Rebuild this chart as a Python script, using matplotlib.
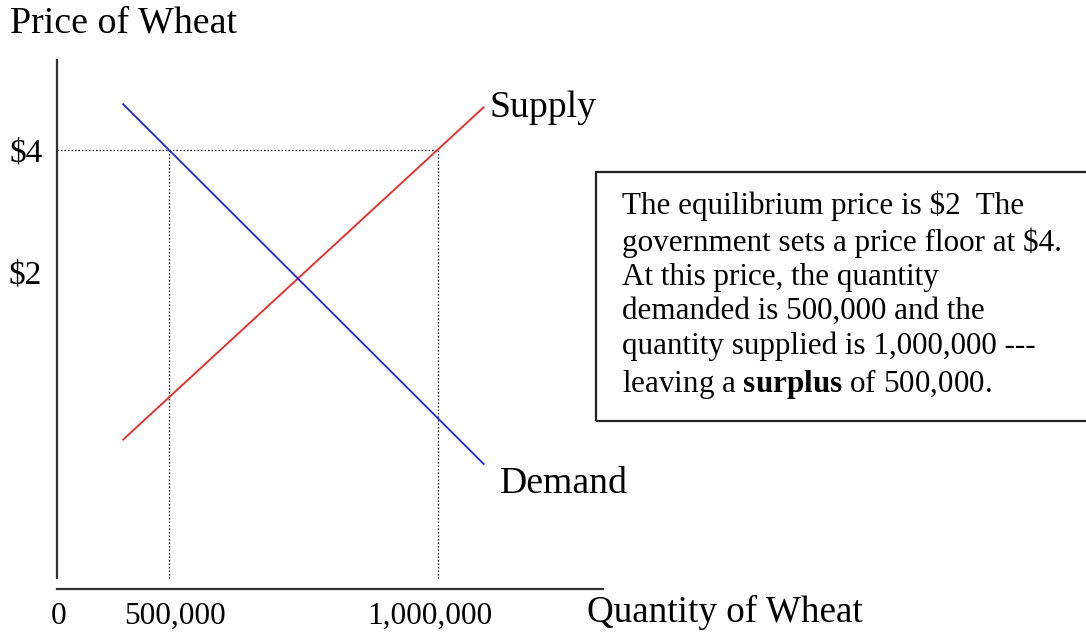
import matplotlib
matplotlib.use("Agg")
import matplotlib.pyplot as plt
from matplotlib.patches import Rectangle
from matplotlib.transforms import ScaledTranslation

plt.rcParams['font.family'] = ['Liberation Serif', 'DejaVu Serif']
plt.rcParams['mathtext.fontset'] = 'custom'
plt.rcParams['mathtext.rm'] = 'Liberation Serif'
plt.rcParams['mathtext.bf'] = 'Liberation Serif:bold'

# schematic data (quantity in bushels, price in $)
supply_q = [415000, 1085000]
supply_p = [-0.75, 4.70]
demand_q = [415000, 1085000]
demand_p = [4.75, -1.15]

floor_price = 4
qty_demanded = 500000
qty_supplied = 1000000

x_ticks = [292000, 500000, 1000000]
x_labels = ["0", "500,000", "1,000,000"]
y_ticks = [2, 4]
y_labels = ["$2", "$4"]

note = ("The equilibrium price is \\$2  The\n"
        "government sets a price floor at \\$4.\n"
        "At this price, the quantity\n"
        "demanded is 500,000 and the\n"
        "quantity supplied is 1,000,000 ---\n"
        "leaving a $\\mathbf{surplus}$ of 500,000.")

W, H = 1086, 635
fig = plt.figure(figsize=(W / 100, H / 100), dpi=100)

# axes box in pixels: left 57, right 603, top 60, bottom 589
ax = fig.add_axes([57 / W, 1 - 589 / H, (603 - 57) / W, (589 - 60) / H])
ax.set_xlim(292000, 1306700)
ax.set_ylim(-3.2, 5.475)

for s in ['top', 'right']:
    ax.spines[s].set_visible(False)
ax.spines['left'].set_bounds(-3.02, 5.475)
for s in ['left', 'bottom']:
    ax.spines[s].set_linewidth(1.6)
    ax.spines[s].set_color('#333333')

ax.set_xticks(x_ticks)
ax.set_xticklabels(x_labels, fontsize=22.5)
ax.set_yticks(y_ticks)
ax.set_yticklabels(y_labels, fontsize=24)
ax.tick_params(axis='x', length=0, pad=9)
ax.tick_params(axis='y', length=0, pad=10.5)

# the labels in the original sit a little off the guide lines
for lab, dx in zip(ax.get_xticklabels(), [2, 6, -8]):
    lab.set_transform(lab.get_transform() + ScaledTranslation(dx / 100, 0, fig.dpi_scale_trans))

# dotted guide lines
dots = dict(color='black', lw=0.9, linestyle=(0, (1.2, 1.6)))
ax.plot([x_ticks[0], qty_supplied], [floor_price, floor_price], **dots)
ax.plot([qty_demanded, qty_demanded], [floor_price, -3.02], **dots)
ax.plot([qty_supplied, qty_supplied], [floor_price, -3.02], **dots)

ax.plot(supply_q, supply_p, color='#ff2020', lw=1.3)
ax.plot(demand_q, demand_p, color='#2020ff', lw=1.3)

ax.text(1096000, 4.69, "Supply", fontsize=27.2, ha='left', va='center')
ax.text(1115000, -1.48, "Demand", fontsize=27.2, ha='left', va='center')

fig.text(10 / W, 1 - 23 / H, "Price of Wheat", fontsize=27.3, ha='left', va='center')
fig.text(587 / W, 1 - 612 / H, "Quantity of Wheat", fontsize=26.7, ha='left', va='center')

# note box
fig.patches.append(Rectangle((596 / W, 1 - 421 / H), (1095 - 596) / W, (421 - 172) / H,
                             transform=fig.transFigure, fill=False,
                             edgecolor='#222222', lw=1.6))
fig.text(622 / W, 1 - 191 / H, note, fontsize=22.4, ha='left', va='top',
         linespacing=1.24)

fig.savefig("out.png", dpi=100)
